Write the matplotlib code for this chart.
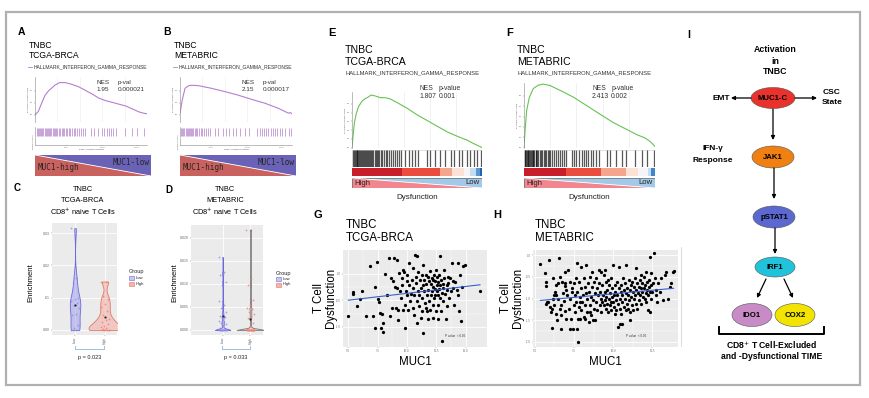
import numpy as np
import matplotlib
matplotlib.use('Agg')
import matplotlib.pyplot as plt
from matplotlib.patches import Rectangle, Polygon, Ellipse

plt.rcParams['font.family'] = ['Liberation Sans', 'DejaVu Sans']
plt.rcParams['mathtext.fontset'] = 'dejavusans'

# ------------------------------------------------------------------ data
# A / B : GSEA running enrichment (MUC1 high vs low)
A_rank = [0, 0.03, 0.06, 0.09, 0.12, 0.15, 0.18, 0.22, 0.27, 0.33, 0.39, 0.45, 0.51,
          0.57, 0.63, 0.69, 0.75, 0.81, 0.87, 0.93, 0.97, 1.0]
A_es = [0.0, 0.06, 0.2, 0.33, 0.4, 0.45, 0.5, 0.54, 0.54, 0.51, 0.47, 0.41, 0.35,
        0.28, 0.24, 0.21, 0.18, 0.15, 0.1, 0.05, 0.03, 0.02]
A_hits = [0.015, 0.025, 0.035, 0.045, 0.055, 0.065, 0.075, 0.085, 0.095, 0.105, 0.115,
          0.125, 0.135, 0.145, 0.16, 0.17, 0.18, 0.19, 0.2, 0.21, 0.225, 0.24, 0.25, 0.26,
          0.275, 0.29, 0.3, 0.315, 0.33, 0.345, 0.36, 0.375, 0.39, 0.41, 0.43, 0.45,
          0.5, 0.53, 0.56, 0.6, 0.62, 0.64, 0.66, 0.68, 0.7, 0.72, 0.8, 0.87, 0.91, 0.97]
B_rank = [0, 0.02, 0.045, 0.075, 0.10, 0.16, 0.28, 0.40, 0.52, 0.64, 0.76, 0.88, 0.94,
          0.97, 0.985, 1.0]
B_es = [0.03, 0.25, 0.445, 0.485, 0.495, 0.49, 0.445, 0.39, 0.33, 0.26, 0.195, 0.11,
        0.055, 0.03, 0.04, 0.02]
B_hits = [0.01, 0.02, 0.03, 0.04, 0.05, 0.06, 0.07, 0.08, 0.09, 0.1, 0.11, 0.12, 0.13,
          0.14, 0.155, 0.17, 0.185, 0.2, 0.215, 0.23, 0.25, 0.27, 0.31, 0.34, 0.38, 0.41,
          0.44, 0.47, 0.5, 0.54, 0.58, 0.62, 0.69, 0.71, 0.73, 0.75, 0.77, 0.79, 0.81,
          0.83, 0.85, 0.87, 0.89, 0.91, 0.94, 0.97, 0.99]
A_stats = ["1.95", "0.000021"]
B_stats = ["2.15", "0.000017"]

# E / F : GSEA vs T cell dysfunction
E_rank = [0, 0.008, 0.018, 0.033, 0.051, 0.077, 0.103, 0.128, 0.146, 0.179, 0.218, 0.256,
          0.295, 0.346, 0.423, 0.5, 0.577, 0.654, 0.731, 0.808, 0.885, 0.936, 0.974, 1.0]
E_es = [0.0, 0.13, 0.28, 0.39, 0.47, 0.53, 0.56, 0.58, 0.60, 0.59, 0.57, 0.57, 0.555,
        0.515, 0.45, 0.375, 0.31, 0.245, 0.18, 0.13, 0.085, 0.045, 0.019, 0.0]
E_hits = [0.005, 0.012, 0.02, 0.028, 0.035, 0.04, 0.048, 0.055, 0.06, 0.068, 0.075, 0.085,
          0.092, 0.1, 0.108, 0.115, 0.125, 0.13, 0.14, 0.148, 0.155, 0.165, 0.175, 0.185,
          0.19, 0.2, 0.21, 0.22, 0.232, 0.245, 0.258, 0.27, 0.285, 0.3, 0.315, 0.33, 0.345,
          0.36, 0.375, 0.41, 0.436, 0.46, 0.487, 0.505, 0.577, 0.60, 0.64, 0.68, 0.718,
          0.76, 0.787, 0.82, 0.846, 0.885, 0.91, 0.94, 0.96, 0.99]
E_bar_edges = [0, 0.385, 0.68, 0.77, 0.86, 0.91, 0.95, 0.987, 1.0]
E_bar_colors = ['#c81e2a', '#ea4d3e', '#f5a58b', '#fbe1d6', '#f5f5f7', '#c6dcef',
                '#5b98d2', '#2264ae']
F_rank = [0, 0.008, 0.02, 0.041, 0.071, 0.109, 0.147, 0.198, 0.275, 0.377, 0.478, 0.580,
          0.682, 0.784, 0.860, 0.924, 0.962, 1.0]
F_es = [0.0, 0.158, 0.356, 0.488, 0.571, 0.604, 0.614, 0.601, 0.554, 0.488, 0.406, 0.323,
        0.241, 0.175, 0.125, 0.092, 0.059, 0.01]
F_hits = [0.004, 0.01, 0.016, 0.022, 0.028, 0.034, 0.04, 0.046, 0.052, 0.058, 0.065, 0.072,
          0.08, 0.088, 0.095, 0.103, 0.11, 0.12, 0.13, 0.14, 0.15, 0.16, 0.17, 0.18, 0.19,
          0.2, 0.215, 0.23, 0.245, 0.26, 0.275, 0.29, 0.305, 0.32, 0.365, 0.385, 0.4, 0.42,
          0.44, 0.455, 0.47, 0.49, 0.51, 0.53, 0.55, 0.57, 0.63, 0.66, 0.7, 0.75, 0.78,
          0.85, 0.9, 0.94, 0.99]
F_bar_edges = [0, 0.32, 0.59, 0.78, 0.87, 0.95, 0.97, 1.0]
F_bar_colors = ['#c81e2a', '#ea4d3e', '#f5a58b', '#fbe1d6', '#f5f5f7', '#c6dcef', '#3f86cc']
E_stats = ["1.807", "0.001"]
F_stats = ["2.413", "0.002"]

# C / D : CD8+ naive T cell enrichment by MUC1 group
groups = ["Low", "High"]
C_low = [0.0315, 0.016, 0.0145, 0.0098, 0.0095, 0.009, 0.0085, 0.0078, 0.0068, 0.005,
         0.0045, 0.0015, 0.0005, 0.0, 0.0, 0.0]
C_high = [0.015, 0.0148, 0.0105, 0.0095, 0.008, 0.0072, 0.006, 0.0045, 0.0035, 0.003,
          0.0025, 0.002, 0.0012, 0.0008, 0.0005, 0.0003, 0.0, 0.0, 0.0, 0.0, 0.0, 0.0]
D_low = [0.0158, 0.0125, 0.012, 0.0105, 0.0098, 0.0062, 0.0055, 0.0048, 0.004, 0.0035,
         0.003, 0.0028, 0.0025, 0.002, 0.0018, 0.0015, 0.0012, 0.001, 0.0005, 0.0003,
         0.0, 0.0, 0.0, 0.0, 0.0, 0.0, 0.0, 0.0, 0.0, 0.0, 0.0, 0.0, 0.0, 0.0]
D_high = [0.0218, 0.011, 0.0098, 0.0065, 0.0055, 0.0048, 0.0045, 0.004, 0.0035, 0.003,
          0.0025, 0.0015, 0.0008, 0.0003, 0.0, 0.0, 0.0, 0.0, 0.0, 0.0, 0.0, 0.0, 0.0,
          0.0, 0.0, 0.0, 0.0, 0.0, 0.0, 0.0, 0.0, 0.0, 0.0, 0.0]
C_p = "p = 0.023"
D_p = "p = 0.033"

# G / H : MUC1 vs T cell dysfunction
G_muc1 = [5.00, 5.37, 5.43, 5.77, 5.99, 6.14, 6.51, 6.85, 7.13, 7.24, 7.27, 7.47, 7.56, 7.61,
          7.70, 7.78, 7.84, 7.93, 7.93, 8.13, 8.32, 8.49, 8.55, 8.61, 8.69, 8.84, 8.92, 8.98,
          9.03, 9.12, 9.18, 9.26, 9.26, 9.35, 9.40, 9.46, 9.55, 9.60, 9.63, 9.69, 9.74, 9.83,
          9.83, 9.91, 9.97, 9.97, 10.03, 10.11, 10.14, 10.20, 10.26, 10.31, 10.40, 10.48,
          10.48, 10.54, 10.60, 10.63, 10.68, 10.74, 10.77, 10.82, 10.82, 10.88, 10.94, 10.97,
          11.02, 11.05, 11.11, 11.16, 11.16, 11.25, 11.25, 11.31, 11.34, 11.39, 11.39, 11.45,
          11.48, 11.53, 11.59, 11.62, 11.65, 11.68, 11.73, 11.76, 11.82, 11.82, 11.88, 11.90,
          11.96, 11.96, 12.02, 12.05, 12.10, 12.13, 12.19, 12.19, 12.24, 12.24, 12.30, 12.33,
          12.39, 12.39, 12.41, 12.44, 12.47, 12.53, 12.53, 12.59, 12.61, 12.64, 12.67, 12.67,
          12.73, 12.76, 12.81, 12.81, 12.84, 12.90, 12.93, 12.95, 12.98, 13.04, 13.10, 13.10,
          13.15, 13.18, 13.24, 13.30, 13.38, 13.38, 13.44, 13.47, 13.52, 13.58, 13.66, 13.72,
          13.81, 13.89, 13.95, 14.01, 14.09, 14.23, 14.32, 14.38, 14.46, 14.52, 14.57, 14.66,
          14.80, 14.94, 16.22]
G_dysf = [-0.80, -0.34, -0.38, -0.60, -0.47, -0.33, -0.80, 0.14, -0.80, -0.24, -1.02, 0.23,
          -0.47, -0.53, -0.74, -1.02, -0.75, -0.93, -1.10, 0.00, -0.39, 0.29, -0.80, -0.07,
          -0.64, -0.14, 0.29, -0.24, -0.64, 0.26, -0.26, -0.68, -0.88, 0.01, -0.33, -0.46,
          -0.21, -0.08, -0.68, 0.08, 0.04, -0.58, -1.03, -0.33, -0.14, -0.39, -0.02, -0.68,
          0.20, -0.21, -0.51, -0.38, -0.11, -0.64, -0.27, 0.11, -0.39, -0.77, 0.36, -0.05,
          -0.18, -0.52, -0.93, 0.33, -0.33, 0.04, -0.39, -0.61, -0.11, -0.27, -0.83, -0.71,
          -0.02, -0.46, -0.21, 0.16, -1.11, -0.33, -0.11, -0.55, -0.64, -0.02, -0.19, -0.39,
          -0.71, -0.05, -0.30, -0.86, -0.14, -0.52, 0.06, -0.68, -0.19, -0.39, -0.08, -0.33,
          -0.58, -0.83, -0.11, -0.24, -0.02, -0.46, -0.39, -0.28, -0.14, -0.71, 0.08, -0.21,
          -0.33, -0.05, -0.58, -0.39, -0.16, -0.86, -0.29, -0.02, 0.33, -0.46, -0.21, -0.71,
          -0.11, -0.36, -1.27, -0.19, -0.27, -0.52, 0.08, -0.08, -0.38, -0.86, -0.21, -0.61,
          -0.30, -0.05, -0.18, -0.46, -0.08, -0.33, 0.20, -0.14, -0.27, -0.58, -0.16, -0.30,
          -0.39, 0.20, -0.71, -0.02, -0.89, -0.24, 0.14, 0.17, -0.33]
H_muc1 = [5.36, 5.64, 5.70, 5.89, 5.79, 5.70, 5.85, 5.96, 6.06, 6.10, 6.17, 6.23, 6.27, 6.34,
          6.38, 6.44, 6.49, 6.51, 6.55, 6.59, 6.63, 6.70, 6.70, 6.76, 6.80, 6.85, 6.91, 6.91,
          6.95, 7.02, 7.02, 6.08, 5.74, 6.17, 6.38, 6.70, 6.21, 6.91,
          7.08, 7.12, 7.17, 7.23, 7.27, 7.34, 7.38, 7.40, 7.44, 7.48, 7.51, 7.55, 7.59, 7.61,
          7.65, 7.70, 7.72, 7.76, 7.80, 7.82, 7.87, 7.91, 7.93, 7.97, 7.97, 8.01, 8.08, 8.12,
          8.14, 8.18, 8.23, 8.25, 8.29, 8.33, 8.35, 8.40, 8.44, 8.46, 8.50, 8.55, 8.57, 8.61,
          8.65, 8.67, 8.72, 8.76, 8.78, 8.82, 8.86, 8.89, 8.93, 8.97, 8.99, 9.03, 9.08, 9.10,
          9.14, 7.27, 7.72, 7.76, 8.18, 8.50, 8.72, 7.91,
          9.18, 9.20, 9.25, 9.29, 9.31, 9.35, 9.39, 9.42, 9.46, 9.50, 9.52, 9.56, 9.56, 9.61,
          9.63, 9.67, 9.71, 9.73, 9.78, 9.82, 9.84, 9.88, 9.88, 9.93, 9.95, 9.99, 9.99, 10.03,
          10.05, 10.10, 10.14, 10.16, 10.20, 10.24, 10.27, 10.31, 10.35, 10.37, 10.41, 10.41,
          10.46, 10.48, 10.52, 10.54, 10.56, 10.58, 10.63, 10.67, 10.69, 10.73, 10.77, 10.80,
          10.84, 10.84, 10.88, 10.90, 10.94, 10.99, 11.01, 11.05, 11.09, 11.11, 11.16, 11.20,
          11.22, 11.26, 10.31, 11.05, 9.25, 9.46, 9.67, 10.10, 10.52, 10.94, 11.26,
          11.31, 11.33, 11.37, 11.41, 11.43, 11.48, 11.52, 11.54, 11.58, 11.62, 11.65, 11.69,
          11.73, 11.75, 11.79, 11.84, 11.86, 11.90, 11.94, 11.96, 12.01, 12.05, 12.07, 12.11,
          12.11, 12.16, 12.18, 12.22, 12.26, 12.28, 12.32, 12.37, 12.39, 12.43, 12.43, 12.49,
          12.54, 12.58, 12.64, 12.71, 12.75, 12.79, 12.86, 12.96, 13.07, 13.17, 13.28, 13.39,
          13.49, 13.60, 13.71, 13.81, 13.85, 12.37, 11.48, 11.79, 12.22]
H_dysf = [-0.21, -0.42, -0.63, -0.12, -1.09, -1.12, -1.09, -1.19, -1.32, -1.23, -0.54, -1.15,
          -0.85, -1.35, -0.92, -1.50, -1.00, -0.65, -0.06, -0.50, -1.23, -1.15, -1.38, -0.63,
          -0.88, -1.06, -0.38, -0.71, -1.29, -0.81, -1.48, -1.68, -0.71, -1.00, -0.68, -1.69,
          -0.92, -0.65,
          -0.92, -0.35, -1.23, -0.62, -1.00, -1.46, -0.77, -0.85, -1.69, -1.15, -0.65, -1.31,
          -0.92, -0.54, -1.08, -0.85, -0.19, -1.46, -0.62, -1.19, -0.96, -1.46, -0.27, -0.77,
          -1.27, -1.08, -0.92, -0.54, -1.42, -0.73, -1.15, -0.88, -0.23, -1.31, -1.00, -0.65,
          -1.54, -0.85, -1.14, -0.50, -0.96, -1.38, -0.73, -0.38, -1.04, -1.23, -0.62, -0.88,
          -1.50, -0.54, -1.08, -0.77, -1.27, -0.92, -0.35, -0.65, -1.15, -1.69, -1.69, -2.00,
          -1.46, -1.31, -1.50, -1.09,
          -0.85, -1.00, -1.31, -0.69, -1.08, -0.92, -1.15, -0.46, -1.04, -0.85, -1.23, -0.96,
          -0.62, -1.12, -0.81, -1.31, -1.00, -0.69, -1.15, -0.88, -1.08, -0.54, -1.27, -0.96,
          -0.77, -1.08, -0.23, -0.92, -1.19, -0.69, -0.85, -1.04, -1.27, -0.62, -0.92, -1.12,
          -0.77, -0.27, -1.00, -1.58, -1.23, -0.85, -0.69, -1.58, -1.08, -0.92, -0.54, -1.19,
          -0.81, -1.00, -0.65, -1.27, -0.88, -0.23, -1.12, -0.77, -0.92, -0.58, -1.04, -1.31,
          -0.81, -0.69, -0.96, -1.15, -0.62, -0.85, -1.65, -1.50, -0.38, -0.35, -0.58, -1.35,
          -1.35, -1.23, -1.27,
          -1.00, -0.73, -0.54, -0.92, -1.12, -0.81, -0.65, -1.23, -0.88, -0.73, -1.04, -0.58,
          -0.92, -0.77, -1.12, -0.65, -0.85, -0.96, -0.50, -0.77, -1.00, -0.69, -0.88, -0.38,
          -1.08, -0.81, -0.62, -0.92, -0.73, -0.58, -0.85, -1.31, -0.69, -0.42, -1.00, -0.85,
          -0.65, 0.04, -0.54, -0.81, -0.92, -1.08, -0.65, -0.85, -0.54, -1.04, -0.46, -0.38,
          -1.00, -0.73, -0.65, -0.38, -0.37, -0.04, -0.31, -0.46, -1.27]
G_xticks = [5.0, 7.5, 10.0, 12.5, 15.0]
G_yticks = [0.0, -0.5, -1.0]
H_xticks = [5.0, 7.5, 10.0, 12.5]
H_yticks = [0.0, -0.5, -1.0, -1.5, -2.0]

# I : pathway nodes
nodes = ["MUC1-C", "JAK1", "pSTAT1", "IRF1", "IDO1", "COX2"]
node_colors = ["#e8322b", "#f08012", "#5a68cf", "#20c3d9", "#c98bc6", "#f2e400"]

# ------------------------------------------------------------------ helpers
W, H = 869, 398
fig = plt.figure(figsize=(W / 100, H / 100), dpi=100)


def axp(x0, y0, x1, y1):
    return fig.add_axes([x0 / W, 1 - y1 / H, (x1 - x0) / W, (y1 - y0) / H])


def ft(x, y, s, **kw):
    kw.setdefault('va', 'center')
    kw.setdefault('ha', 'left')
    return fig.text(x / W, 1 - y / H, s, **kw)


def tiny(ax, size=2.0):
    ax.tick_params(labelsize=size, length=1, width=0.3, pad=0.5, colors='#666666')


def strip(ax, keep=()):
    for k, s in ax.spines.items():
        s.set_visible(k in keep)
        s.set_linewidth(0.4)
        s.set_color('#888888')


def tri_bar(x0, y0, x1, y1, c_ll, c_ur, ltxt, rtxt, ly, ry, fs, family, outline):
    ax = axp(x0, y0, x1, y1)
    ax.set_xlim(0, 1)
    ax.set_ylim(0, 1)
    ax.axis('off')
    ax.add_patch(Polygon([[0, 1], [0, 0], [1, 0]], closed=True, fc=c_ll, ec='none'))
    ax.add_patch(Polygon([[0, 1], [1, 1], [1, 0]], closed=True, fc=c_ur, ec='none'))
    ax.plot([0, 1], [1, 0], color='white', lw=0.6)
    if outline:
        ax.add_patch(Rectangle((0, 0), 1, 1, fill=False, ec=outline, lw=0.6))
    ax.text(0.02, ly, ltxt, fontsize=fs, family=family, color='#262626', va='center', ha='left')
    ax.text(0.985, ry, rtxt, fontsize=fs, family=family, color='#262626', va='center', ha='right')


def gsea_ab(x0, x1, rank, es, hits, stats, name, letter, lx):
    ft(lx, 32, letter, fontsize=7.5, fontweight='bold')
    ft(x0 - 6, 45, "TNBC", fontsize=6.2)
    ft(x0 - 6, 55.5, name, fontsize=6.2)
    lg = axp(x0 - 7, 62, x0 + 113, 72)
    lg.axis('off')
    lg.set_xlim(0, 1)
    lg.set_ylim(0, 1)
    lg.plot([0.0, 0.035], [0.5, 0.5], color='#b57fd0', lw=0.6)
    lg.text(0.05, 0.5, "HALLMARK_INTERFERON_GAMMA_RESPONSE", fontsize=3.6, va='center',
            color='#333333', clip_on=True)
    ax = axp(x0, 77, x1, 122)
    for g in [0.2, 0.4, 0.6, 0.8]:
        ax.axvline(g, color='#ececec', lw=0.4)
    ax.plot(rank, es, color='#b57fd0', lw=0.8)
    ax.set_xlim(0, 1)
    ax.set_ylim(-0.117, 0.633)
    ax.set_xticks([])
    ax.set_yticks([0.0, 0.2, 0.4])
    ax.set_yticklabels(["0.0", "0.2", "0.4"])
    tiny(ax, 1.5)
    strip(ax, ('left',))
    ax.set_ylabel("Running Enrichment Score", fontsize=1.5, labelpad=0.5, color='#555555')
    ax.text(0.55, 0.85, "NES", transform=ax.transAxes, fontsize=4.6, color='#333333')
    ax.text(0.55, 0.69, stats[0], transform=ax.transAxes, fontsize=4.6, color='#333333')
    ax.text(0.74, 0.85, "p-val", transform=ax.transAxes, fontsize=4.6, color='#333333')
    ax.text(0.74, 0.69, stats[1], transform=ax.transAxes, fontsize=4.6, color='#333333')
    hx = axp(x0, 127, x1, 137)
    hx.vlines(hits, 0.1, 0.9, color='#bf95d2', lw=0.6)
    hx.set_xlim(0, 1)
    hx.set_ylim(0, 1)
    hx.set_xticks([])
    hx.set_yticks([])
    strip(hx, ('left',))
    bx = axp(x0, 138, x1, 145)
    bx.set_xlim(0, 1)
    bx.set_ylim(0, 1)
    bx.set_yticks([])
    bx.set_xticks([0.28, 0.6, 0.91])
    bx.set_xticklabels(["5000", "10000", "15000"])
    tiny(bx, 1.5)
    strip(bx, ('left', 'bottom'))
    bx.set_xlabel("Rank in Ordered Dataset", fontsize=1.6, labelpad=0.5, color='#555555')
    bx.set_ylabel("Ranked list metric", fontsize=1.4, labelpad=0.5, color='#555555')
    tri_bar(x0, 155, x1 + 4, 176, '#c9625f', '#6a62b6', "MUC1-high", "MUC1-low", 0.42, 0.63,
            5.6, 'DejaVu Sans Mono', None)


def gsea_ef(x0, x1, top, rank, es, hits, edges, cols, stats, name, letter, lx, ymax):
    ft(lx, 33, letter, fontsize=8, fontweight='bold')
    ft(x0 - 7, 50, "TNBC", fontsize=7.6)
    ft(x0 - 7, 62, name, fontsize=7.6)
    lg = axp(x0 - 6, 68, x0 + 136, 78)
    lg.axis('off')
    lg.set_xlim(0, 1)
    lg.set_ylim(0, 1)
    lg.text(0.0, 0.5, "HALLMARK_INTERFERON_GAMMA_RESPONSE", fontsize=4.25, va='center',
            color='#333333', clip_on=True)
    ax = axp(x0, top, x1, 148)
    for g in [0.2, 0.4, 0.6, 0.8, 1.0]:
        ax.axvline(g, color='#e6e6e6', lw=0.4)
    ax.plot(rank, es, color='#67c254', lw=0.8)
    ax.set_xlim(0, 1)
    ax.set_ylim(-0.005, ymax)
    ax.set_xticks([])
    ax.set_yticks([0.0, 0.1, 0.2, 0.3, 0.4, 0.5])
    ax.set_yticklabels(["0.0", "0.1", "0.2", "0.3", "0.4", "0.5"])
    tiny(ax, 1.5)
    strip(ax, ('left',))
    ax.set_ylabel("Running Enrichment Score", fontsize=1.5, labelpad=0.5, color='#555555')
    tx = axp(x0, 84, x1, 100)
    tx.axis('off')
    tx.set_xlim(0, 1)
    tx.set_ylim(0, 1)
    tx.text(0.52, 0.72, "NES", fontsize=4.9, color='#333333', va='center')
    tx.text(0.52, 0.24, stats[0], fontsize=4.9, color='#333333', va='center')
    tx.text(0.665, 0.72, "p-value", fontsize=4.9, color='#333333', va='center')
    tx.text(0.665, 0.24, stats[1], fontsize=4.9, color='#333333', va='center')
    hx = axp(x0, 150, x1, 167)
    hx.add_patch(Rectangle((0, 0), 1, 1, fc='white', ec='#cccccc', lw=0.4))
    hx.vlines(hits, 0, 1, color='#111111', lw=0.9, alpha=0.7)
    hx.set_xlim(0, 1)
    hx.set_ylim(0, 1)
    hx.axis('off')
    cx = axp(x0, 168, x1, 176)
    for i in range(len(cols)):
        cx.add_patch(Rectangle((edges[i], 0), edges[i + 1] - edges[i], 1, fc=cols[i], ec='none'))
    cx.set_xlim(0, 1)
    cx.set_ylim(0, 1)
    cx.axis('off')
    tri_bar(x0, 178, x1, 188, '#f2868f', '#a3c9e8', "High", "Low", 0.45, 0.55, 5.6,
            'Liberation Sans', '#777777')
    ft((x0 + x1) / 2, 197.5, "Dysfunction", fontsize=5.8, ha='center', color='#222222')


def violin_panel(x0, y0, x1, y1, low, high, xlim, ylim, yt, ytl, title2, letter, lx,
                 ly, bw, widths, high_edge, ylab_x):
    ft(lx, ly, letter, fontsize=7, fontweight='bold')
    tx = (x0 + x1) / 2 - 2
    ft(tx, 190, "TNBC", fontsize=5.3, ha='center')
    ft(tx, 200.5, title2, fontsize=5.3, ha='center')
    ft(tx, 211.5, r"CD8$^{+}$ naive T Cells", fontsize=5.3, ha='center')
    ax = axp(x0, y0, x1, y1)
    ax.set_facecolor('#ebebeb')
    strip(ax)
    ax.set_axisbelow(True)
    ax.grid(True, color='white', lw=0.6)
    ax.set_xlim(*xlim)
    ax.set_ylim(*ylim)
    pos = [1, 2]
    fills = [(0.55, 0.55, 0.92, 0.45), (0.96, 0.62, 0.58, 0.45)]
    edges = ['#6c6ad8', high_edge]
    pts = ['#8c8ce6', '#f0806e']
    for i, vals in enumerate([low, high]):
        parts = ax.violinplot([vals], positions=[pos[i]], widths=widths[i],
                              showextrema=False, bw_method=bw[i])
        b = parts['bodies'][0]
        b.set_alpha(None)
        b.set_facecolor(fills[i])
        b.set_edgecolor(edges[i])
        b.set_linewidth(0.6)
        n = len(vals)
        off = ((np.arange(n) * 0.618) % 1 - 0.5) * 0.3
        ax.scatter(pos[i] + off, vals, s=1.6, color=pts[i], alpha=0.8, lw=0, zorder=4)
        ax.scatter([pos[i]], [np.mean(vals)], s=2.5, color='#222222', lw=0, zorder=5)
    ax.set_xticks(pos)
    ax.set_xticklabels(groups, rotation=90)
    ax.set_yticks(yt)
    ax.set_yticklabels(ytl)
    tiny(ax, 2.5)
    ft(ylab_x, 283, "Enrichment", fontsize=5.5, rotation=90, ha='center')
    return ax


# ------------------------------------------------------------------ A, B
gsea_ab(35, 147, A_rank, A_es, A_hits, A_stats, "TCGA-BRCA", "A", 18)
gsea_ab(180, 292, B_rank, B_es, B_hits, B_stats, "METABRIC", "B", 163)

# ------------------------------------------------------------------ E, F
gsea_ef(352, 482, 92, E_rank, E_es, E_hits, E_bar_edges, E_bar_colors, E_stats,
        "TCGA-BRCA", "E", 328, 0.635)
gsea_ef(524, 655, 83, F_rank, F_es, F_hits, F_bar_edges, F_bar_colors, F_stats,
        "METABRIC", "F", 506, 0.625)

# ------------------------------------------------------------------ C, D
violin_panel(52, 223, 117, 335, C_low, C_high, (0.23, 2.4), (-0.00155, 0.0331),
             [0.0, 0.01, 0.02, 0.03], ["0.00", ".01", "0.02", "0.03"],
             "TCGA-BRCA", "C", 14, 188, [0.35, 0.3], [0.35, 1.1], '#e07a68', 31)
violin_panel(191, 225, 263, 335, D_low, D_high, (-0.14, 2.45), (-0.00109, 0.0228),
             [0.0, 0.005, 0.01, 0.015, 0.02], ["0.000", "0.005", "0.010", "0.015", "0.020"],
             "METABRIC", "D", 165, 190, [0.05, 0.05], [0.55, 1.0], '#7a7a7a', 175)


# ------------------------------------------------------------------ G, H
def scatter_panel(x0, y0, x1, y1, xs, ys, xlim, ylim, xt, yt, name, letter, lx, title_x,
                  ylab_x, pv_x):
    ft(lx, 215, letter, fontsize=8, fontweight='bold')
    ft(title_x, 225, "TNBC", fontsize=8.3)
    ft(title_x, 238, name, fontsize=8.3)
    ax = axp(x0, y0, x1, y1)
    ax.set_facecolor('#ebebeb')
    strip(ax)
    ax.set_axisbelow(True)
    ax.set_xlim(*xlim)
    ax.set_ylim(*ylim)
    ax.set_xticks(xt)
    ax.set_yticks(yt)
    ax.set_xticklabels([f"{v:.1f}" for v in xt])
    ax.set_yticklabels([f"{v:.1f}" for v in yt])
    mx = [(xt[i] + xt[i + 1]) / 2 for i in range(len(xt) - 1)]
    my = [(yt[i] + yt[i + 1]) / 2 for i in range(len(yt) - 1)]
    ax.set_xticks(mx, minor=True)
    ax.set_yticks(my, minor=True)
    ax.grid(True, which='major', color='white', lw=0.6)
    ax.grid(True, which='minor', color='white', lw=0.3)
    ax.tick_params(which='minor', length=0)
    tiny(ax, 2.0)
    ax.scatter(xs, ys, s=5.5, color='black', lw=0, zorder=3)
    k, b = np.polyfit(xs, ys, 1)
    lx0, lx1 = min(xs), max(xs)
    ax.plot([lx0, lx1], [k * lx0 + b, k * lx1 + b], color='#3a5fcd', lw=0.8, zorder=4)
    ax.text(pv_x, 0.1, "P value  < 0.05", transform=ax.transAxes, fontsize=2.2, color='#333333')
    ft(ylab_x, 298, "T Cell\nDysfunction", fontsize=8.3, rotation=90, ha='center',
       linespacing=1.1)
    ft((x0 + x1) / 2, 362, "MUC1", fontsize=8.3, ha='center')


scatter_panel(343, 250, 487, 347, G_muc1, G_dysf, (4.55, 16.82), (-1.38, 0.45),
              G_xticks, G_yticks, "TCGA-BRCA", "G", 313, 346, 325, 0.71)
scatter_panel(533, 250, 678, 347, H_muc1, H_dysf, (4.89, 14.13), (-2.115, 0.115),
              H_xticks, H_yticks, "METABRIC", "H", 493, 535, 512, 0.64)

# ------------------------------------------------------------------ overlay: frame, legends, I
ov = fig.add_axes([0, 0, 1, 1])
ov.set_xlim(0, W)
ov.set_ylim(H, 0)
ov.axis('off')
ov.add_patch(Rectangle((6, 12), 854, 373, fill=False, ec='#b0b0b0', lw=1.6))
ov.plot([680.5, 680.5], [247, 346], color='#d5d5d5', lw=0.6)

# legends for C / D
for (lx, ly) in [(129, 272), (276, 273)]:
    ov.text(lx, ly, "Group", fontsize=4.0, va='center', ha='left', color='#222222')
    ov.add_patch(Rectangle((lx, ly + 4), 5, 4, fc='#c7c7f2', ec='#6c6ad8', lw=0.4))
    ov.add_patch(Rectangle((lx, ly + 9.5), 5, 4, fc='#f6b2a8', ec='#e07a68', lw=0.4))
    ov.text(lx + 7, ly + 6, "Low", fontsize=3.0, va='center', color='#222222')
    ov.text(lx + 7, ly + 11.5, "High", fontsize=3.0, va='center', color='#222222')

# p-value brackets
for (xa, xb, pstr) in [(75, 104, C_p), (222, 250, D_p)]:
    ov.plot([xa, xa, xb, xb], [346, 348.5, 348.5, 346], color='#9cc0e4', lw=0.7)
    ov.text((xa + xb) / 2, 358, pstr, fontsize=4.0, ha='center', va='center', color='#222222')

# panel I
ov.text(687, 35, "I", fontsize=7.5, fontweight='bold', va='center')
for (yy, s) in [(49, "Activation"), (61, "in"), (72, "TNBC")]:
    ov.text(775, yy, s, fontsize=6.3, fontweight='bold', ha='center', va='center')
node_xy = [(773, 98), (773, 157), (774, 217), (775, 267), (752, 315), (795, 315)]
node_wh = [(44, 21), (42, 22), (42, 22), (40, 20), (40, 23), (40, 23)]
for (xy, wh, name, col) in zip(node_xy, node_wh, nodes, node_colors):
    ov.add_patch(Ellipse(xy, wh[0], wh[1], fc=col, ec='#555555', lw=0.4))
    ov.text(xy[0], xy[1] + 0.5, name, fontsize=5.6, fontweight='bold', ha='center',
            va='center')

arrow = dict(arrowstyle='-|>', color='black', lw=0.9, mutation_scale=5.5,
             shrinkA=0, shrinkB=0)
ov.annotate("", xy=(731, 98), xytext=(751, 98), arrowprops=arrow)
ov.annotate("", xy=(817, 98), xytext=(795, 98), arrowprops=arrow)
ov.annotate("", xy=(773, 140), xytext=(773, 109), arrowprops=arrow)
ov.annotate("", xy=(774, 199), xytext=(774, 168), arrowprops=arrow)
ov.annotate("", xy=(775, 254), xytext=(775, 228), arrowprops=arrow)
ov.annotate("", xy=(757, 298), xytext=(766, 279), arrowprops=arrow)
ov.annotate("", xy=(793, 298), xytext=(784, 279), arrowprops=arrow)
ov.text(721, 98, "EMT", fontsize=6.0, fontweight='bold', ha='center', va='center')
ov.text(832, 92, "CSC", fontsize=6.0, fontweight='bold', ha='center', va='center')
ov.text(832, 103, "State", fontsize=6.0, fontweight='bold', ha='center', va='center')
ov.text(713, 148, "IFN-γ", fontsize=6.0, fontweight='bold', ha='center', va='center')
ov.text(713, 160, "Response", fontsize=6.0, fontweight='bold', ha='center', va='center')
ov.plot([719, 719, 824, 824], [327, 333.5, 333.5, 327], color='black', lw=1.4)
ov.text(772, 345, r"CD8$^{+}$ T Cell-Excluded", fontsize=6.2, fontweight='bold',
        ha='center', va='center')
ov.text(772, 356.5, "and -Dysfunctional TIME", fontsize=6.2, fontweight='bold',
        ha='center', va='center')

fig.savefig("out.png", dpi=100)
